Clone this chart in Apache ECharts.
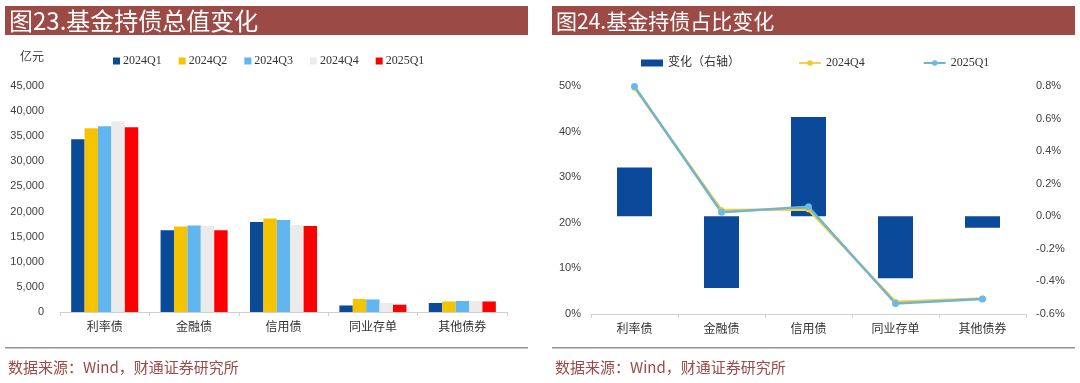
<!DOCTYPE html>
<html><head><meta charset="utf-8">
<script src="https://cdn.jsdelivr.net/npm/echarts@6/dist/echarts.min.js"></script>
<style>html,body{margin:0;padding:0;background:#fff;}#c{width:1080px;height:383px;}</style>
</head><body><div id="c"></div>
<script>
const categories = ['利率债', '金融债', '信用债', '同业存单', '其他债券'];
const q2024Q1 = [34400, 16300, 17900, 1300, 1800];
const q2024Q2 = [36600, 17000, 18600, 2600, 2100];
const q2024Q3 = [37000, 17200, 18300, 2500, 2200];
const q2024Q4 = [38000, 17100, 17300, 1800, 2200];
const q2025Q1 = [36800, 16300, 17100, 1450, 2100];
const shareChange = [0.30, -0.44, 0.61, -0.38, -0.07];
const share2024Q4 = [49.6, 22.8, 22.9, 2.7, 3.4];
const share2025Q1 = [49.9, 22.3, 23.5, 2.3, 3.3];
const leftTitle = '图23.基金持债总值变化';
const rightTitle = '图24.基金持债占比变化';
const sourceText = '数据来源：Wind，财通证券研究所';

const chart = echarts.init(document.getElementById('c'));
const cjk = '"Noto Sans CJK SC", sans-serif';
const serif = '"Liberation Serif", "Noto Sans CJK SC", serif';
const axisLab = {color: '#404040', fontSize: 11, fontFamily: '"Liberation Sans", Arial, sans-serif'};
const catLab = {color: '#333', fontSize: 12, fontFamily: cjk, margin: 8};
const barColors = ['#0b4a96', '#f5c400', '#62b6ef', '#ebebeb', '#ff0000'];
const brown = '#9b4a45';

function barSeries(name, data, color) {
  return {name, type: 'bar', xAxisIndex: 0, yAxisIndex: 0, data, barGap: '0%', barCategoryGap: '25%',
    itemStyle: {color}};
}

chart.setOption({
  animation: false,
  graphic: [
    {type: 'rect', shape: {x: 5, y: 6, width: 523, height: 29}, style: {fill: brown}},
    {type: 'rect', shape: {x: 552, y: 6, width: 523, height: 29}, style: {fill: brown}},
    {type: 'text', x: 9, y: 21, style: {text: leftTitle, fill: '#fff', font: '24px "Noto Sans CJK SC"', verticalAlign: 'middle'}},
    {type: 'text', x: 556, y: 21, style: {text: rightTitle, fill: '#fff', font: '21px "Noto Sans CJK SC"', verticalAlign: 'middle'}},
    {type: 'text', x: 20, y: 56, style: {text: '亿元', fill: '#404040', font: '12px "Noto Sans CJK SC"', verticalAlign: 'middle'}},
    {type: 'rect', shape: {x: 5, y: 347, width: 523, height: 1.5}, style: {fill: '#9e8f8d'}},
    {type: 'rect', shape: {x: 552, y: 347, width: 523, height: 1.5}, style: {fill: '#9e8f8d'}},
    {type: 'text', x: 8, y: 367, style: {text: sourceText, fill: brown, font: '15px "Noto Sans CJK SC"', verticalAlign: 'middle'}},
    {type: 'text', x: 555, y: 367, style: {text: sourceText, fill: brown, font: '15px "Noto Sans CJK SC"', verticalAlign: 'middle'}}
  ],
  legend: [
    {left: 108, top: 50, itemWidth: 7, itemHeight: 7, itemGap: 17, icon: 'rect',
      textStyle: {fontFamily: serif, fontSize: 12, color: '#333', padding: [0, 0, 0, -2]},
      data: ['2024Q1', '2024Q2', '2024Q3', '2024Q4', '2025Q1']},
    {left: 636, top: 52, itemWidth: 22, itemHeight: 7, itemGap: 58,
      formatter: n => n.trim(),
      textStyle: {fontFamily: serif, fontSize: 12, color: '#333'},
      data: [{name: '变化（右轴）', icon: 'rect'}, {name: '2024Q4 '}, {name: '2025Q1 '}]}
  ],
  grid: [
    {left: 60, top: 86, width: 447, height: 226},
    {left: 591, top: 86, width: 435, height: 228}
  ],
  xAxis: [
    {type: 'category', gridIndex: 0, data: categories,
      axisLine: {lineStyle: {color: '#d0d0d0'}}, axisTick: {show: true, lineStyle: {color: '#d0d0d0'}, length: 4},
      axisLabel: catLab},
    {type: 'category', gridIndex: 1, data: categories,
      axisLine: {lineStyle: {color: '#d0d0d0'}}, axisTick: {show: true, lineStyle: {color: '#d0d0d0'}, length: 4},
      axisLabel: catLab}
  ],
  yAxis: [
    {type: 'value', gridIndex: 0, min: 0, max: 45000, interval: 5000, splitLine: {show: false},
      axisLine: {show: false}, axisTick: {show: false},
      axisLabel: Object.assign({}, axisLab, {margin: 16, formatter: v => v.toLocaleString('en-US')})},
    {type: 'value', gridIndex: 1, min: 0, max: 50, interval: 10, splitLine: {show: false},
      axisLine: {show: false}, axisTick: {show: false},
      axisLabel: Object.assign({}, axisLab, {margin: 10, formatter: v => v + '%'})},
    {type: 'value', gridIndex: 1, position: 'right', min: -0.6, max: 0.8, interval: 0.2, splitLine: {show: false},
      axisLine: {show: false}, axisTick: {show: false},
      axisLabel: Object.assign({}, axisLab, {margin: 10, formatter: v => (Math.abs(v) < 1e-9 ? 0 : v).toFixed(1) + '%'})}
  ],
  series: [
    barSeries('2024Q1', q2024Q1, barColors[0]),
    barSeries('2024Q2', q2024Q2, barColors[1]),
    barSeries('2024Q3', q2024Q3, barColors[2]),
    barSeries('2024Q4', q2024Q4, barColors[3]),
    barSeries('2025Q1', q2025Q1, barColors[4]),
    {name: '变化（右轴）', type: 'bar', xAxisIndex: 1, yAxisIndex: 2, data: shareChange, barWidth: 35,
      itemStyle: {color: '#0b4a9a'}},
    {name: '2024Q4 ', type: 'line', xAxisIndex: 1, yAxisIndex: 1, data: share2024Q4,
      symbol: 'circle', symbolSize: 6, lineStyle: {color: '#f2d34d', width: 2.5}, itemStyle: {color: '#f0c830'}},
    {name: '2025Q1 ', type: 'line', xAxisIndex: 1, yAxisIndex: 1, data: share2025Q1,
      symbol: 'circle', symbolSize: 7, lineStyle: {color: '#74b3cc', width: 2.5}, itemStyle: {color: '#6cb8e8'}}
  ]
});
</script></body></html>
